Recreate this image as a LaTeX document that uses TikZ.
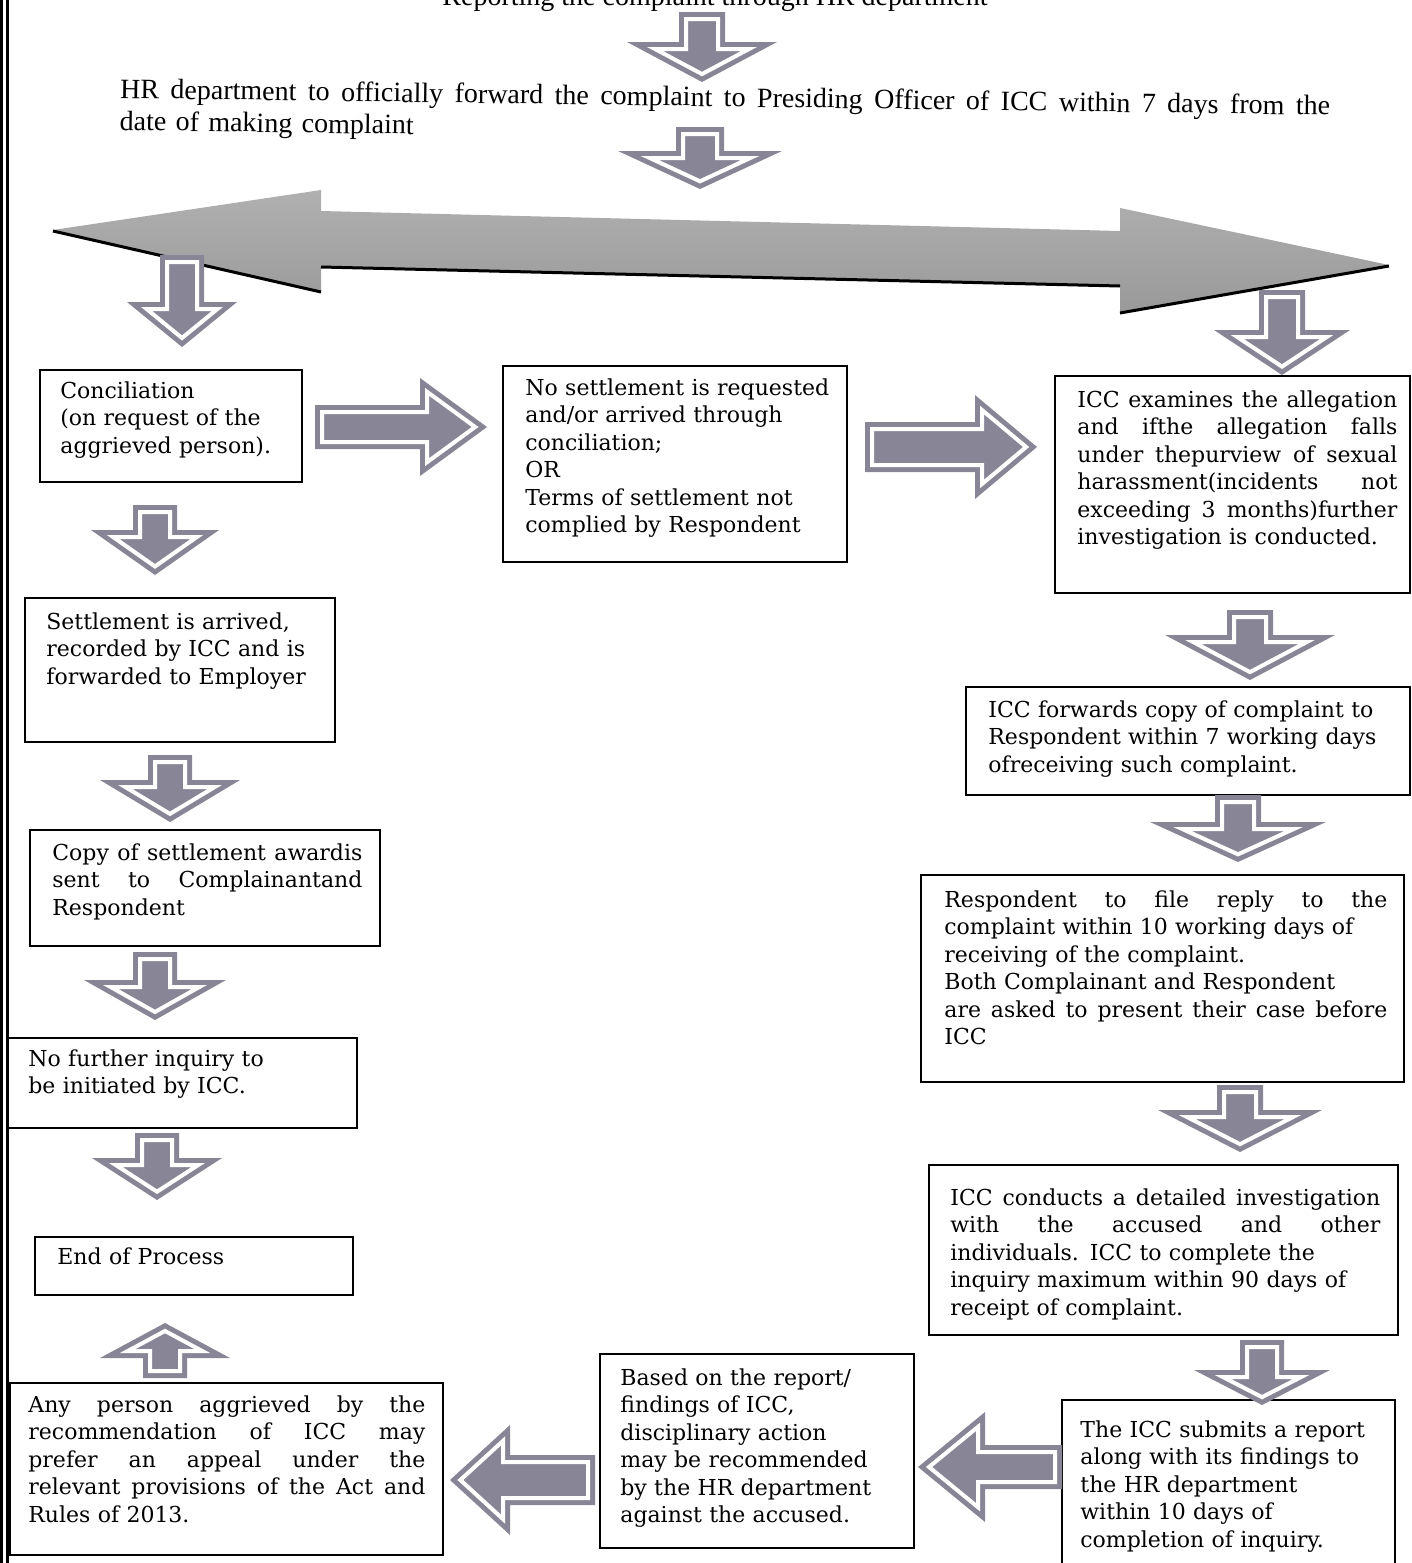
\documentclass[tikz,border=0pt]{standalone}
\usepackage{fontspec}
\setmainfont{DejaVu Serif}
\newfontfamily\titlefont{Liberation Serif}
\usetikzlibrary{fit}
\definecolor{arrowgray}{RGB}{136,134,150}
\newcommand\jline[2]{\makebox[#1][s]{\spaceskip=0pt\xspaceskip=0pt #2}\\}
% \barrow{x}{y}{angle}{length}{shaft half width}{head half width}{head length}
\newcommand\barrow[7]{%
  \begin{scope}[shift={(#1,#2)},rotate=#3]
    \pgfmathsetmacro\bk{#6/#7}%
    \pgfmathsetmacro\sq{7*sqrt(1+\bk*\bk)}%
    \pgfmathsetmacro\hx{#4-#7}%
    \pgfmathsetmacro\iy{#6-\bk*7-\sq}%
    \pgfmathsetmacro\itx{#4-\sq/\bk}%
    \fill[arrowgray] (0,#5) -- (\hx,#5) -- (\hx,#6) -- (#4,0) -- (\hx,-#6) -- (\hx,-#5) -- (0,-#5) -- cycle;
    \draw[white,line width=2pt,line join=miter]
      (7,{#5-7}) -- ({\hx+7},{#5-7}) -- ({\hx+7},\iy) -- (\itx,0) -- ({\hx+7},-\iy) -- ({\hx+7},{-#5+7}) -- (7,{-#5+7}) -- cycle;
  \end{scope}}
\tikzset{
  box/.style={draw, line width=1pt, inner sep=0pt},
  txt/.style={anchor=north west, inner sep=0pt, align=left, font=\fontsize{11}{13.75}\selectfont},
}
\begin{document}
\begin{tikzpicture}[x=0.5pt,y=-0.5pt]
\useasboundingbox (0,0) rectangle (1412,1563);
\clip (0,0) rectangle (1412,1563);
\fill[white] (0,0) rectangle (1412,1563);
% left border
\draw[line width=1.6pt] (1.6,0) -- (1.6,1563);
\draw[line width=1.2pt] (7.6,0) -- (7.6,1563);

% titles
\node (top) [anchor=base, font=\titlefont\fontsize{14}{16}\selectfont] at (715,5) {Reporting the complaint through HR department};
\node (title) [anchor=north west, rotate=-0.8, inner sep=0pt, text width=605pt, align=left, font=\titlefont\fontsize{14}{16}\selectfont] at (120,78)
  {\jline{605pt}{HR department to officially forward the complaint to Presiding Officer of ICC within 7 days from the}date of making complaint};

% big double arrow
\shade[top color=gray!62, bottom color=gray!80] (53,230) -- (321,190) -- (321,211) -- (1120,231) -- (1120,208) -- (1389,265) -- (1120,312) -- (1120,285) -- (321,266) -- (321,291) -- cycle;
\draw[line width=1.5pt] (53,231) -- (321,292);
\draw[line width=1.5pt] (321,267) -- (1120,286);
\draw[line width=1.5pt] (1120,313) -- (1389,266);

% boxes
\node (b1) [box, fit={(40,370) (302,482)}] {};
\node (b1t) [txt, text width=120pt] at (60,381) {Conciliation\\(on request of the\\aggrieved person).};

\node (b2) [box, fit={(503,366) (847,562)}] {};
\node (b2t) [txt, text width=155pt] at (525,378) {No settlement is requested\\and/or arrived through\\conciliation;\\OR\\Terms of settlement not\\complied by Respondent};

\node (b3) [box, fit={(1055,376) (1410,593)}] {};
\node (b3t) [txt, text width=160pt] at (1077,390) {\jline{160pt}{ICC examines the allegation}\jline{160pt}{and ifthe allegation falls}\jline{160pt}{under thepurview of sexual}\jline{160pt}{harassment(incidents not}\jline{160pt}{exceeding 3 months)further}investigation is conducted.};

\node (b4) [box, fit={(25,598) (335,742)}] {};
\node (b4t) [txt, text width=140pt] at (46,612) {Settlement is arrived,\\recorded by ICC and is\\forwarded to Employer};

\node (b5) [box, fit={(966,687) (1410,795)}] {};
\node (b5t) [txt, text width=201pt] at (988,700) {ICC forwards copy of complaint to\\Respondent within 7 working days\\ofreceiving such complaint.};

\node (b6) [box, fit={(30,830) (380,946)}] {};
\node (b6t) [txt, text width=155pt] at (52,843) {\jline{155pt}{Copy of settlement awardis}\jline{155pt}{sent to Complainantand}Respondent};

\node (b7) [box, fit={(921,875) (1404,1082)}] {};
\node (b7t) [txt, text width=221.5pt] at (944,890) {\jline{221.5pt}{Respondent to file reply to the}complaint within 10 working days of\\receiving of the complaint.\\Both Complainant and Respondent\\\jline{221.5pt}{are asked to present their case before}ICC};

\node (b8) [box, fit={(7,1038) (357,1128)}] {};
\node (b8t) [txt, text width=150pt] at (28,1049) {No further inquiry to\\be initiated by ICC.};

\node (b9) [box, fit={(35,1237) (353,1295)}] {};
\node (b9t) [txt, text width=150pt] at (57,1247) {End of Process};

\node (b10) [box, fit={(929,1165) (1398,1335)}] {};
\node (b10t) [txt, text width=215pt] at (950,1188) {\jline{215pt}{ICC conducts a detailed investigation}\jline{215pt}{with the accused and other}individuals. ICC to complete the\\inquiry maximum within 90 days of\\receipt of complaint.};

\node (b11) [box, fit={(10,1383) (443,1555)}] {};
\node (b11t) [txt, text width=198.5pt] at (28,1395) {\jline{198.5pt}{Any person aggrieved by the}\jline{198.5pt}{recommendation of ICC may}\jline{198.5pt}{prefer an appeal under the}\jline{198.5pt}{relevant provisions of the Act and}Rules of 2013.};

\node (b12) [box, fit={(600,1354) (914,1548)}] {};
\node (b12t) [txt, text width=150pt] at (620,1368) {Based on the report/\\findings of ICC,\\disciplinary action\\may be recommended\\by the HR department\\against the accused.};

\node (b13) [box, fit={(1062,1400) (1395,1590)}] {};
\node (b13t) [txt, text width=155pt] at (1080,1420) {The ICC submits a report\\along with its findings to\\the HR department\\within 10 days of\\completion of inquiry.};

% block arrows
\barrow{702}{12}{-90}{70}{23}{75}{40}
\barrow{700}{127}{-90}{62}{24}{82}{38}
\barrow{182}{255}{-90}{92}{22}{55}{45}
\barrow{1282}{290}{-90}{85}{23}{68}{45}
\barrow{155}{505}{-90}{70}{22}{64}{45}
\barrow{170}{755}{-90}{67}{22}{70}{42}
\barrow{155}{952}{-90}{68}{22}{71}{40}
\barrow{157}{1133}{-90}{67}{22}{65}{42}
\barrow{165}{1378}{90}{55}{22}{65}{35}
\barrow{1250}{610}{-90}{70}{23}{85}{45}
\barrow{1238}{795}{-90}{67}{23}{88}{40}
\barrow{1240}{1085}{-90}{67}{23}{82}{42}
\barrow{1262}{1340}{-90}{65}{22}{68}{35}
\barrow{315}{427}{0}{172}{22}{49}{67}
\barrow{865}{447}{0}{172}{25}{52}{62}
\barrow{1062}{1467}{180}{144}{22}{55}{67}
\barrow{595}{1480}{180}{145}{25}{55}{60}
\end{tikzpicture}
\end{document}
